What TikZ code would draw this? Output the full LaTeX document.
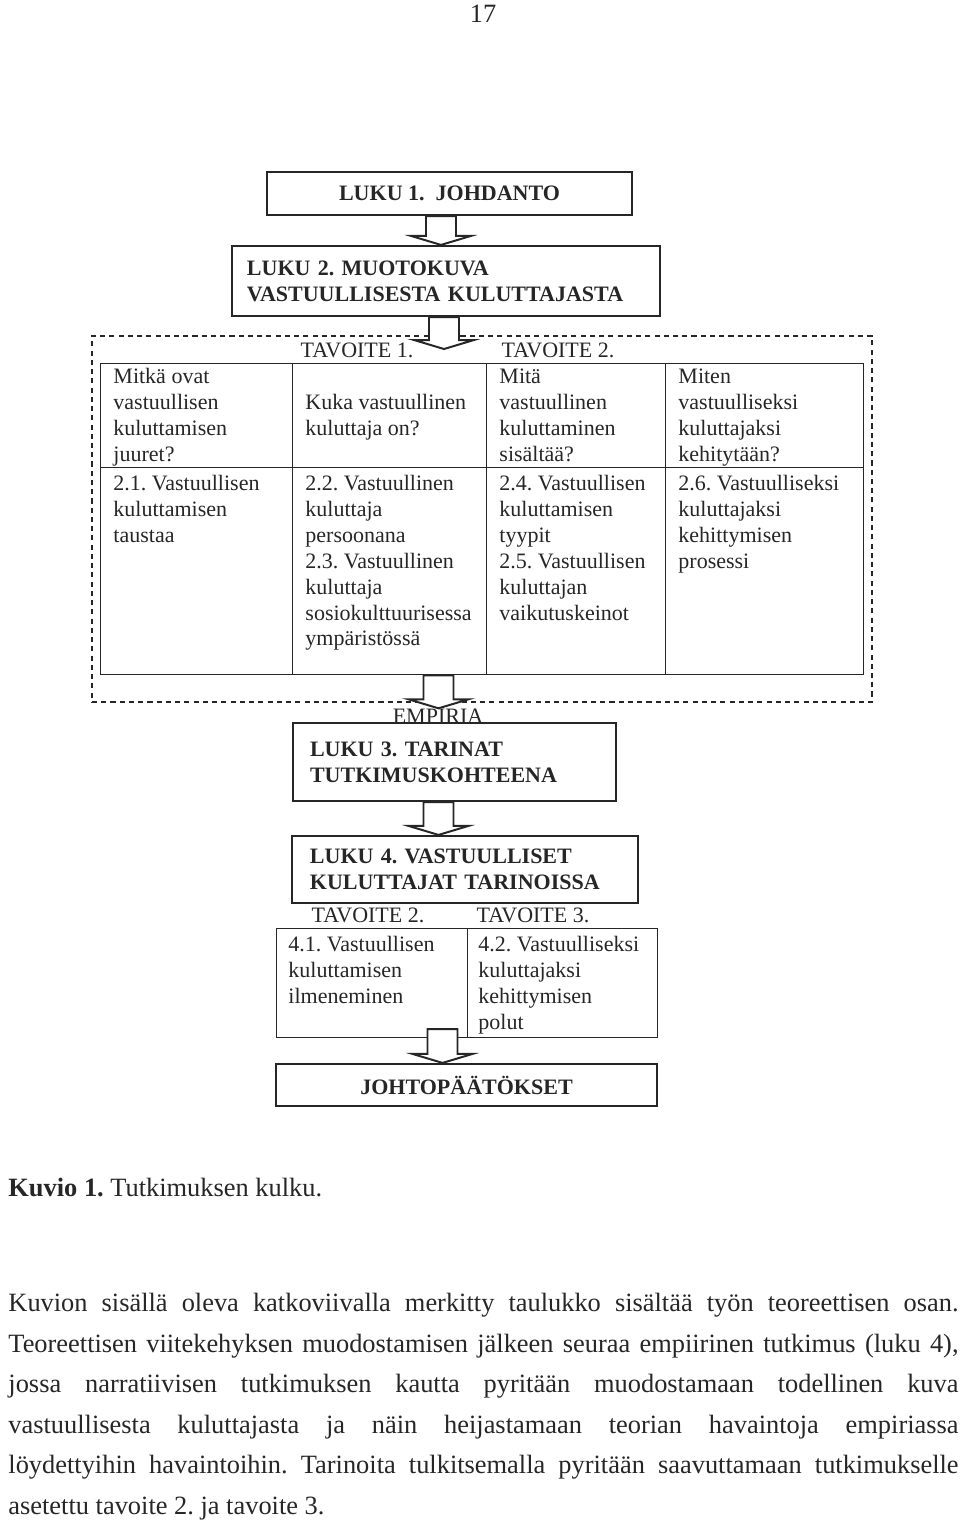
\documentclass[tikz,border=0pt]{standalone}
\usepackage{fontspec}
\setmainfont{Liberation Serif}
\usepackage{tikz}
\usetikzlibrary{positioning}
\usetikzlibrary{calc}
\frenchspacing

\definecolor{ink}{gray}{0.15}
\newcommand{\pxu}{0.4545pt}
\newcommand{\cellfont}{\fontsize{10}{11.8}\selectfont}
\newcommand{\bodyfont}{\fontsize{12}{18.4}\selectfont}

\tikzstyle{luku}=[
        draw=ink,
        line width=1pt,
        text=ink,
        font=\cellfont\bfseries,
        inner sep=0pt
]
\tikzstyle{cell}=[draw=ink,line width=0.6pt,anchor=north west,inner sep=0pt]
\tikzstyle{celltext}=[text=ink,font=\cellfont,align=left,inner sep=0pt,
        execute at begin node=\strut,execute at end node=\strut]
\tikzstyle{tag}=[text=ink,font=\cellfont,inner sep=0pt]
\tikzstyle{teoria}=[draw=ink,line width=0.7pt,dash pattern=on 2.3pt off 1.9pt,inner sep=0pt]
\tikzstyle{fat}=[draw=ink,fill=white,line width=0.9pt,line join=miter]

% block arrow: #1 x position, #2 start, #3 tip
\newcommand{\fatarrow}[3]{%
  \draw[fat] ($(#1 |- #2)+(-15,0)$) -- ($(#1 |- #3)+(-15,-9)$)
    -- ($(#1 |- #3)+(-30,-9)$) -- (#1 |- #3)
    -- ($(#1 |- #3)+(30,-9)$) -- ($(#1 |- #3)+(15,-9)$)
    -- ($(#1 |- #2)+(15,0)$) -- cycle;}

\begin{document}
\begin{tikzpicture}[x=0.4545pt,y=-0.4545pt]
\useasboundingbox (0,0) rectangle (960,1520);
\node[anchor=base,text=ink,font=\fontsize{12}{14}\selectfont,inner sep=0pt] (sivu) at (483,22) {17};
%Chapters
\node[luku,minimum width=365*\pxu,minimum height=43*\pxu] (luku1) at (449.5,193.5) {LUKU 1.\ \ JOHDANTO};
\node[luku,minimum width=428*\pxu,minimum height=70*\pxu,text width=180.9pt,align=left] (luku2) at (446,281) {LUKU 2. MUOTOKUVA\\VASTUULLISESTA KULUTTAJASTA};
%Theory frame and table
\node[teoria,minimum width=780*\pxu,minimum height=366*\pxu] (teoria) at (482,519) {};
\node[tag] (tav1) at (357,350) {TAVOITE 1.};
\node[tag] (tav2) at (558,350) {TAVOITE 2.};
\node[cell,minimum width=192*\pxu,minimum height=104*\pxu] (h1) at (100,363) {};
\node[cell,minimum width=194*\pxu,minimum height=104*\pxu] (h2) at (292,363) {};
\node[cell,minimum width=179*\pxu,minimum height=104*\pxu] (h3) at (486,363) {};
\node[cell,minimum width=198*\pxu,minimum height=104*\pxu] (h4) at (665,363) {};
\node[cell,minimum width=192*\pxu,minimum height=207*\pxu] (b1) at (100,467) {};
\node[cell,minimum width=194*\pxu,minimum height=207*\pxu] (b2) at (292,467) {};
\node[cell,minimum width=179*\pxu,minimum height=207*\pxu] (b3) at (486,467) {};
\node[cell,minimum width=198*\pxu,minimum height=207*\pxu] (b4) at (665,467) {};
\node[celltext,anchor=west] (h1t) at ($(h1.west)+(13,3)$) {Mitkä ovat\\vastuullisen\\kuluttamisen\\juuret?};
\node[celltext,anchor=west] (h2t) at ($(h2.west)+(13,3)$) {Kuka vastuullinen\\kuluttaja on?};
\node[celltext,anchor=west] (h3t) at ($(h3.west)+(13,3)$) {Mitä\\vastuullinen\\kuluttaminen\\sisältää?};
\node[celltext,anchor=west] (h4t) at ($(h4.west)+(13,3)$) {Miten\\vastuulliseksi\\kuluttajaksi\\kehitytään?};
\node[celltext,anchor=north west] (b1t) at ($(b1.north west)+(13,7.5)$) {2.1. Vastuullisen\\kuluttamisen\\taustaa};
\node[celltext,anchor=north west] (b2t) at ($(b2.north west)+(13,7.5)$) {2.2. Vastuullinen\\kuluttaja\\persoonana\\2.3. Vastuullinen\\kuluttaja\\sosiokulttuurisessa\\ympäristössä};
\node[celltext,anchor=north west] (b3t) at ($(b3.north west)+(13,7.5)$) {2.4. Vastuullisen\\kuluttamisen\\tyypit\\2.5. Vastuullisen\\kuluttajan\\vaikutuskeinot};
\node[celltext,anchor=north west] (b4t) at ($(b4.north west)+(13,7.5)$) {2.6. Vastuulliseksi\\kuluttajaksi\\kehittymisen\\prosessi};
%Empirical part
\node[tag] (empiria) at (438,716) {EMPIRIA};
\node[luku,minimum width=323*\pxu,minimum height=78*\pxu,text width=131.3pt,align=left] (luku3) at (454.5,762) {LUKU 3. TARINAT\\TUTKIMUSKOHTEENA};
\node[luku,minimum width=346*\pxu,minimum height=67*\pxu,text width=140.9pt,align=left] (luku4) at (465,869.5) {LUKU 4. VASTUULLISET\\KULUTTAJAT TARINOISSA};
\node[tag] (tav2b) at (368,915) {TAVOITE 2.};
\node[tag] (tav3) at (533,915) {TAVOITE 3.};
\node[cell,minimum width=191*\pxu,minimum height=109*\pxu] (c1) at (276,928) {};
\node[cell,minimum width=190*\pxu,minimum height=109*\pxu] (c2) at (467,928) {};
\node[celltext,anchor=north west] (c1t) at ($(c1.north west)+(12,8)$) {4.1. Vastuullisen\\kuluttamisen\\ilmeneminen};
\node[celltext,anchor=north west] (c2t) at ($(c2.north west)+(11,8)$) {4.2. Vastuulliseksi\\kuluttajaksi\\kehittymisen\\polut};
\node[luku,minimum width=381*\pxu,minimum height=42*\pxu] (johto) at (466.5,1085) {JOHTOPÄÄTÖKSET};
%Arrows
\coordinate (x1) at (441,0);
\coordinate (x2) at (444,0);
\coordinate (x3) at (438.5,0);
\coordinate (x5) at (442.5,0);
\coordinate (t2) at (444,349);
\coordinate (s5) at (442.5,1029);
\fatarrow{x1}{luku1.south}{luku2.north}
\fatarrow{x2}{luku2.south}{t2}
\fatarrow{x3}{b2.south}{empiria.north}
\fatarrow{x3}{luku3.south}{luku4.north}
\fatarrow{x5}{s5}{johto.north}
%Caption and text
\node[anchor=base west,text=ink,font=\fontsize{12}{14}\selectfont,inner sep=0pt] (kuvio) at (8,1196) {\textbf{Kuvio 1.} Tutkimuksen kulku.};
\node[anchor=north west,text width=431.8pt,align=justify,text=ink,font=\bodyfont,inner sep=0pt] (teksti) at (8,1293) {Kuvion sisällä oleva katkoviivalla merkitty taulukko sisältää työn teoreettisen osan.\linebreak
Teoreettisen viitekehyksen muodostamisen jälkeen seuraa empiirinen tutkimus (luku 4),\linebreak
jossa narratiivisen tutkimuksen kautta pyritään muodostamaan todellinen kuva\linebreak
vastuullisesta kuluttajasta ja näin heijastamaan teorian havaintoja empiriassa\linebreak
löydettyihin havaintoihin. Tarinoita tulkitsemalla pyritään saavuttamaan tutkimukselle\linebreak
asetettu tavoite 2. ja tavoite 3.};
\end{tikzpicture}
\end{document}
